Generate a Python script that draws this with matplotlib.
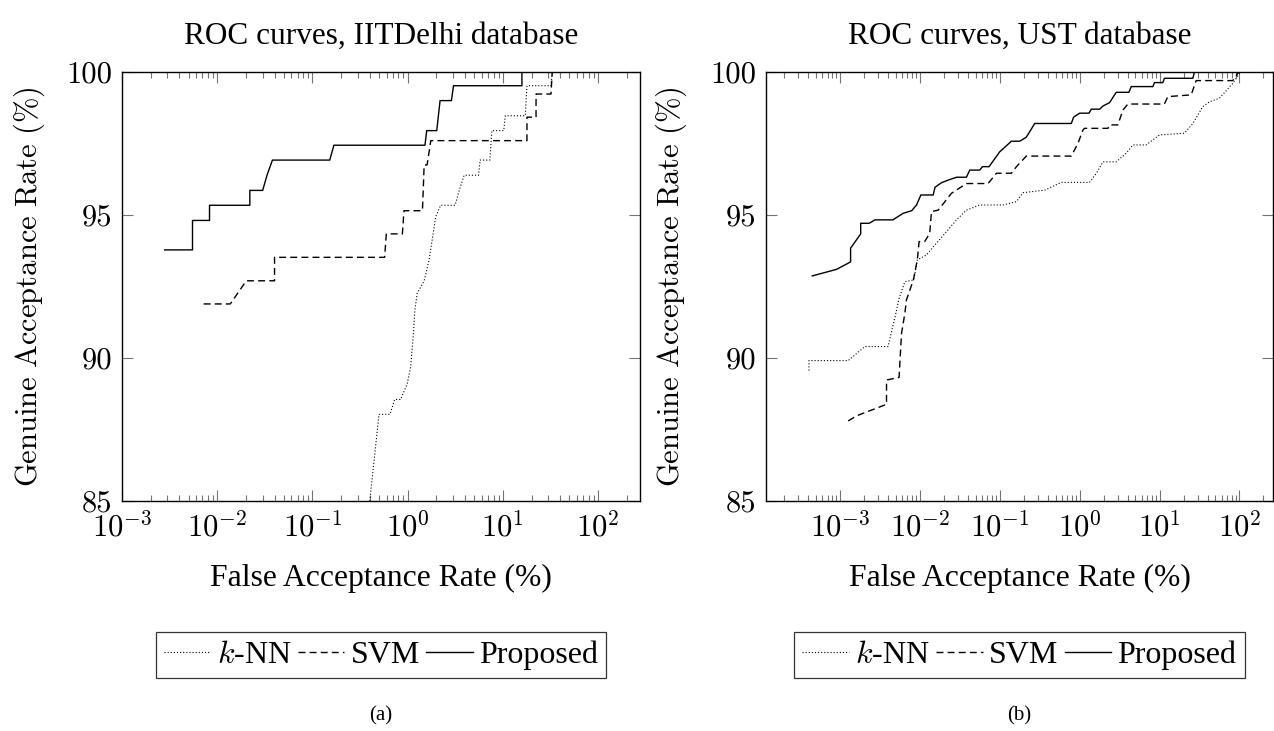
import numpy as np
import matplotlib
matplotlib.use("Agg")
import matplotlib.pyplot as plt
from matplotlib.ticker import FixedLocator, FixedFormatter, LogLocator, NullFormatter

# ---------------- data ----------------
titles = ["ROC curves, IITDelhi database", "ROC curves, UST database"]
panel_labels = ["(a)", "(b)"]
series_names = [r"$k$-NN", "SVM", "Proposed"]
xlabel = "False Acceptance Rate (%)"
ylabel = r"$\mathrm{Genuine\ Acceptance\ Rate\ (\%)}$"
yticks = [85, 90, 95, 100]
xtick_values = [1e-3, 1e-2, 1e-1, 1e0, 1e1, 1e2]
xtick_labels = [r"$10^{-3}$", r"$10^{-2}$", r"$10^{-1}$", r"$10^{0}$", r"$10^{1}$", r"$10^{2}$"]

# IITDelhi
iit_knn_x = [0.40, 0.50, 0.652, 0.73, 0.844, 0.99, 1.076, 1.15, 1.19, 1.26, 1.49, 1.68, 1.97, 2.22,
             3.15, 3.47, 3.92, 5.55, 5.77, 7.3, 7.66, 10.2, 10.6, 17.2, 17.9, 32, 33, 100]
iit_knn_y = [85.0, 88.03, 88.03, 88.55, 88.55, 89.1, 89.7, 90.86, 91.68, 92.26, 92.7, 93.43, 94.94, 95.34,
             95.34, 95.85, 96.39, 96.39, 96.92, 96.92, 97.95, 97.95, 98.47, 98.47, 99.52, 99.52, 100, 100]
iit_svm_x = [0.0072, 0.0137, 0.0202, 0.040, 0.040, 0.573, 0.597, 0.88, 0.915, 1.43, 1.49, 1.6, 1.75,
             17.9, 17.9, 22.3, 22.3, 32, 33, 100]
iit_svm_y = [91.89, 91.89, 92.7, 92.7, 93.52, 93.52, 94.34, 94.34, 95.15, 95.15, 96.75, 96.75, 97.6,
             97.6, 98.42, 98.42, 99.23, 99.23, 100, 100]
iit_prop_x = [0.0028, 0.0055, 0.0055, 0.0083, 0.0083, 0.022, 0.022, 0.030, 0.0334, 0.038, 0.152, 0.168,
              1.52, 1.585, 2.02, 2.19, 2.88, 3.03, 15.85, 15.85, 100]
iit_prop_y = [93.78, 93.78, 94.81, 94.81, 95.34, 95.34, 95.86, 95.86, 96.4, 96.92, 96.92, 97.44,
              97.44, 97.95, 97.95, 99.0, 99.0, 99.52, 99.52, 100, 100]

# UST
ust_knn_x = [4.1e-4, 4.1e-4, 1.27e-3, 2.05e-3, 4.0e-3, 4.9e-3, 5.5e-3, 6.5e-3, 8.4e-3, 9.3e-3, 0.0121,
             0.0154, 0.0216, 0.0288, 0.0383, 0.0562, 0.110, 0.162, 0.196, 0.365, 0.590, 1.33, 1.62,
             1.96, 2.87, 3.83, 4.64, 6.8, 10.0, 20.5, 26.1, 34.8, 42.2, 56, 82.5, 100]
ust_knn_y = [89.56, 89.91, 89.91, 90.40, 90.40, 91.44, 92.08, 92.67, 92.73, 93.43, 93.60,
             93.95, 94.42, 94.83, 95.17, 95.35, 95.35, 95.47, 95.78, 95.87, 96.14, 96.14, 96.46,
             96.86, 96.86, 97.16, 97.45, 97.45, 97.80, 97.86, 98.20, 98.79, 98.96, 99.08, 99.60, 99.95]
ust_svm_x = [1.27e-3, 1.62e-3, 3.83e-3, 3.83e-3, 5.5e-3, 5.9e-3, 6.5e-3, 6.8e-3, 8.3e-3, 9.3e-3, 9.8e-3,
             0.0115, 0.0133, 0.0140, 0.0170, 0.0249, 0.0383, 0.0715, 0.091, 0.140, 0.162, 0.215, 0.787,
             0.955, 1.10, 1.15, 2.26, 2.37, 3.01, 3.48, 4.02, 11.5, 12.7, 24.9, 28.7, 82.5, 95.4, 100]
ust_svm_y = [87.80, 87.98, 88.38, 89.23, 89.32, 90.86, 91.56, 92.03, 92.73, 93.43, 94.07,
             94.07, 94.36, 95.12, 95.17, 95.76, 96.10, 96.10, 96.46, 96.46, 96.69, 97.06, 97.06,
             97.51, 97.97, 98.03, 98.03, 98.15, 98.15, 98.67, 98.88, 98.88, 99.14, 99.20, 99.70, 99.70, 99.95, 100]
ust_prop_x = [4.5e-4, 9.1e-4, 1.36e-3, 1.36e-3, 1.82e-3, 1.82e-3, 2.33e-3, 2.74e-3, 4.6e-3, 6.2e-3, 7.9e-3,
              9.1e-3, 0.0103, 0.0147, 0.0155, 0.0187, 0.0226, 0.0288, 0.0383, 0.0422, 0.0562, 0.0608,
              0.0736, 0.100, 0.140, 0.178, 0.215, 0.237, 0.274, 0.787, 0.84, 1.0, 1.31, 1.40, 1.78, 1.96,
              2.37, 2.87, 4.14, 4.42, 8.25, 8.66, 11.0, 11.5, 26.1, 27.4, 100]
ust_prop_y = [92.87, 93.10, 93.36, 93.84, 94.34, 94.71, 94.71, 94.83, 94.83, 95.06, 95.15,
              95.35, 95.70, 95.70, 95.97, 96.13, 96.22, 96.32, 96.32, 96.57, 96.57, 96.69,
              96.69, 97.21, 97.58, 97.58, 97.72, 97.91, 98.20, 98.20, 98.42, 98.56, 98.56, 98.70, 98.70, 98.81,
              98.93, 99.29, 99.29, 99.49, 99.49, 99.63, 99.63, 99.78, 99.78, 100, 100]

# ---------------- styling ----------------
plt.rcParams['mathtext.fontset'] = 'cm'
plt.rcParams['axes.unicode_minus'] = False
TIMES = "Liberation Serif"
CM = "cmr10"

styles = [dict(color='black', lw=0.8, linestyle=(0, (1, 1.8))),
          dict(color='black', lw=1.0, linestyle=(0, (5, 3))),
          dict(color='black', lw=1.0, linestyle='-')]

fig = plt.figure(figsize=(12.74, 7.31), dpi=100)
W, H = 1274, 731
ax1 = fig.add_axes([122 / W, 1 - 501 / H, 518 / W, 429 / H])
ax2 = fig.add_axes([766 / W, 1 - 501 / H, 507 / W, 429 / H])

panels = [
    (ax1, [(iit_knn_x, iit_knn_y), (iit_svm_x, iit_svm_y), (iit_prop_x, iit_prop_y)], (1e-3, 10 ** 2.44), 29),
    (ax2, [(ust_knn_x, ust_knn_y), (ust_svm_x, ust_svm_y), (ust_prop_x, ust_prop_y)], (10 ** -3.925, 10 ** 2.42), 671),
]

for i, (ax, data, xlim, ylab_x) in enumerate(panels):
    for (xs, ys), st, name in zip(data, styles, series_names):
        ax.plot(xs, ys, label=name, **st)
    ax.set_xscale('log')
    ax.set_xlim(*xlim)
    ax.set_ylim(85, 100)
    ax.xaxis.set_major_locator(FixedLocator(xtick_values))
    ax.xaxis.set_major_formatter(FixedFormatter(xtick_labels))
    ax.xaxis.set_minor_locator(LogLocator(base=10, subs=np.arange(2, 10), numticks=20))
    ax.xaxis.set_minor_formatter(NullFormatter())
    ax.set_yticks(yticks)
    ax.set_yticklabels([str(v) for v in yticks])
    ax.tick_params(which='both', direction='in', top=True, right=True, color='0.45', width=0.8)
    ax.tick_params(which='major', length=8, labelsize=22)
    ax.tick_params(axis='x', which='major', pad=7)
    ax.tick_params(axis='y', which='major', pad=7)
    ax.tick_params(which='minor', length=4.3)
    for lab in ax.get_yticklabels():
        lab.set_fontfamily(CM)
    for sp in ax.spines.values():
        sp.set_linewidth(1.0)
    cx = ax.get_position().x0 + ax.get_position().width / 2
    fig.text(cx, 1 - 36 / H, titles[i], ha='center', va='center', fontsize=22.5, fontfamily=TIMES)
    fig.text(cx, 1 - 578 / H, xlabel, ha='center', va='center', fontsize=22.8, fontfamily=TIMES)
    fig.text(ylab_x / W, (1 - 501 / H + 1 - 72 / H) / 2, ylabel, ha='center', va='center', rotation=90,
             fontsize=22)
    fig.text(cx, 1 - 716 / H, panel_labels[i], ha='center', va='center', fontsize=15, fontfamily=TIMES)
    leg = ax.legend(loc='center', bbox_to_anchor=(0.5, (1 - 655 / H - (1 - 501 / H)) / (429 / H)),
                    ncol=3, frameon=True, fancybox=False, edgecolor='black',
                    prop={'family': TIMES, 'size': 23}, handlelength=1.45, handletextpad=0.2,
                    columnspacing=0.2, borderpad=0.25, borderaxespad=0)
    leg.get_frame().set_linewidth(0.9)

fig.savefig("out.png", dpi=100)
